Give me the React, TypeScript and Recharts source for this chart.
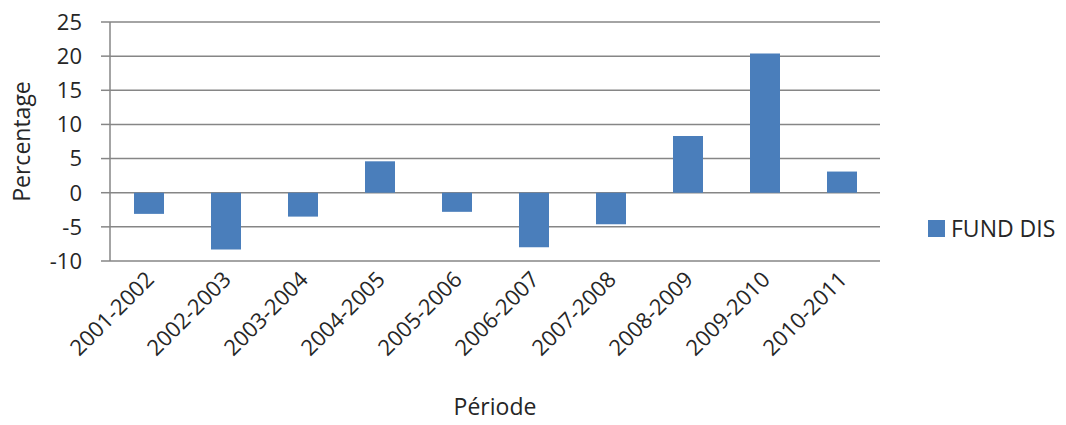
import { BarChart, Bar, XAxis, YAxis, CartesianGrid, Legend } from 'recharts';

const periods = [
  '2001-2002',
  '2002-2003',
  '2003-2004',
  '2004-2005',
  '2005-2006',
  '2006-2007',
  '2007-2008',
  '2008-2009',
  '2009-2010',
  '2010-2011',
];
const fundDis = [-3.1, -8.3, -3.5, 4.6, -2.8, -8.0, -4.6, 8.3, 20.4, 3.1];
const yTicks = [-10, -5, 0, 5, 10, 15, 20, 25];

const data = periods.map((period, i) => ({ period, fundDis: fundDis[i] }));

const font = '"Open Sans", sans-serif';
const textColor = '#262626';
const gridColor = '#868686';
const barColor = '#4a7ebb';

// category labels slanted at 45°, ending just under the bar
function PeriodTick({ x, y, payload }: any) {
  return (
    <g transform={`translate(${x - 3},${y})`}>
      <text
        x={0}
        y={0}
        dy={14}
        textAnchor="end"
        transform="rotate(-45)"
        fill={textColor}
        fontSize={22}
        fontFamily={font}
      >
        {payload.value}
      </text>
    </g>
  );
}

function LegendBox() {
  return (
    <div style={{ display: 'flex', alignItems: 'center', fontFamily: font, fontSize: 23, color: textColor, whiteSpace: 'nowrap' }}>
      <span style={{ width: 17, height: 17, background: barColor, display: 'inline-block', marginRight: 6 }} />
      <span>FUND DIS</span>
    </div>
  );
}

export default function App() {
  return (
    <div style={{ position: 'absolute', left: 0, top: 0, background: '#fff' }}>
      <BarChart
        width={1066}
        height={425}
        data={data}
        margin={{ top: 22, right: 186, left: 0, bottom: 0 }}
        barSize={30}
      >
        <CartesianGrid vertical={false} stroke={gridColor} strokeWidth={1.5} />
        <XAxis
          dataKey="period"
          height={164}
          axisLine={false}
          tickLine={false}
          tick={<PeriodTick />}
          tickMargin={4}
          interval={0}
          label={{
            value: 'Période',
            position: 'insideBottom',
            offset: 10,
            fill: textColor,
            fontSize: 23,
            fontFamily: font,
          }}
        />
        <YAxis
          width={110}
          domain={[-10, 25]}
          ticks={yTicks}
          interval={0}
          stroke={gridColor}
          strokeWidth={1.5}
          tickSize={9}
          tickMargin={19}
          tick={{ fill: textColor, fontSize: 22, fontFamily: font }}
          label={{
            value: 'Percentage',
            angle: -90,
            position: 'insideLeft',
            offset: 22,
            fill: textColor,
            fontSize: 23,
            fontFamily: font,
            style: { textAnchor: 'middle' },
          }}
        />
        <Legend
          layout="horizontal"
          align="center"
          verticalAlign="middle"
          content={<LegendBox />}
          wrapperStyle={{ left: 928, top: 212, width: 'auto' }}
        />
        <Bar dataKey="fundDis" name="FUND DIS" fill={barColor} isAnimationActive={false} />
      </BarChart>
    </div>
  );
}
